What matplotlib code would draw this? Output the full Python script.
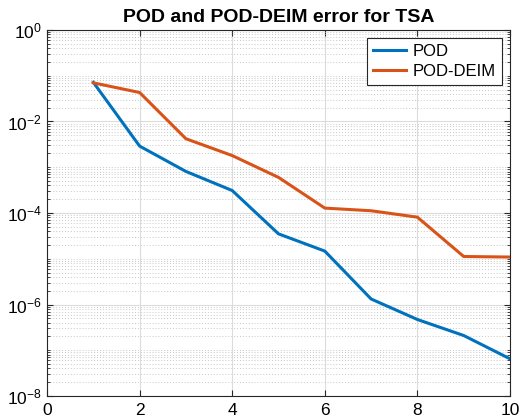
import matplotlib
matplotlib.use("Agg")
import matplotlib.pyplot as plt
from matplotlib.ticker import LogLocator, FixedLocator, NullFormatter

plt.rcParams['font.family'] = ['Liberation Sans', 'DejaVu Sans']

x = [1, 2, 3, 4, 5, 6, 7, 8, 9, 10]
pod = [0.072, 2.9e-3, 8.1e-4, 3.1e-4, 3.5e-5, 1.47e-5, 1.32e-6, 4.7e-7, 2.1e-7, 6.5e-8]
pod_deim = [0.070, 4.3e-2, 4.2e-3, 1.8e-3, 6.0e-4, 1.28e-4, 1.12e-4, 8.1e-5, 1.12e-5, 1.09e-5]
xticks = [0, 2, 4, 6, 8, 10]
labels = ['POD', 'POD-DEIM']
title = 'POD and POD-DEIM error for TSA'

fig = plt.figure(figsize=(5.2, 4.2), dpi=100)
ax = fig.add_axes([0.0904, 0.0571, 0.8904, 0.8715])

ax.semilogy(x, pod, color='#0072BD', lw=2.2, label=labels[0])
ax.semilogy(x, pod_deim, color='#D95319', lw=2.2, label=labels[1])

ax.set_xlim(0, 10)
ax.set_ylim(1e-8, 1e0)
ax.set_xticks(xticks)
ax.set_xticklabels([str(t) for t in xticks])
ax.yaxis.set_major_locator(FixedLocator([1e-8, 1e-6, 1e-4, 1e-2, 1e0]))
ax.yaxis.set_minor_locator(LogLocator(base=10, subs=[1, 2, 3, 4, 5, 6, 7, 8, 9], numticks=50))
ax.yaxis.set_minor_formatter(NullFormatter())

ax.grid(True, which='major', color='#dcdcdc', lw=0.8, ls='-')
ax.grid(True, which='minor', axis='y', color='#c8c8c8', lw=0.7, ls=(0, (1, 2)))
ax.set_axisbelow(True)

ax.tick_params(which='both', direction='in', top=True, right=True, labelsize=12.5, color='#262626')
ax.tick_params(which='major', length=4)
ax.tick_params(which='minor', length=2)
ax.tick_params(axis='x', pad=5)
for s in ax.spines.values():
    s.set_color('#262626')
    s.set_linewidth(0.8)

ax.set_title(title, fontsize=14, fontweight='bold', pad=6)
leg = ax.legend(loc='upper right', fontsize=12, fancybox=False, framealpha=1,
                edgecolor='#262626', handlelength=2.0, handletextpad=0.4,
                borderaxespad=0.5, borderpad=0.35, labelspacing=0.3)
leg.get_frame().set_linewidth(0.8)

fig.savefig('out.png', dpi=100)
